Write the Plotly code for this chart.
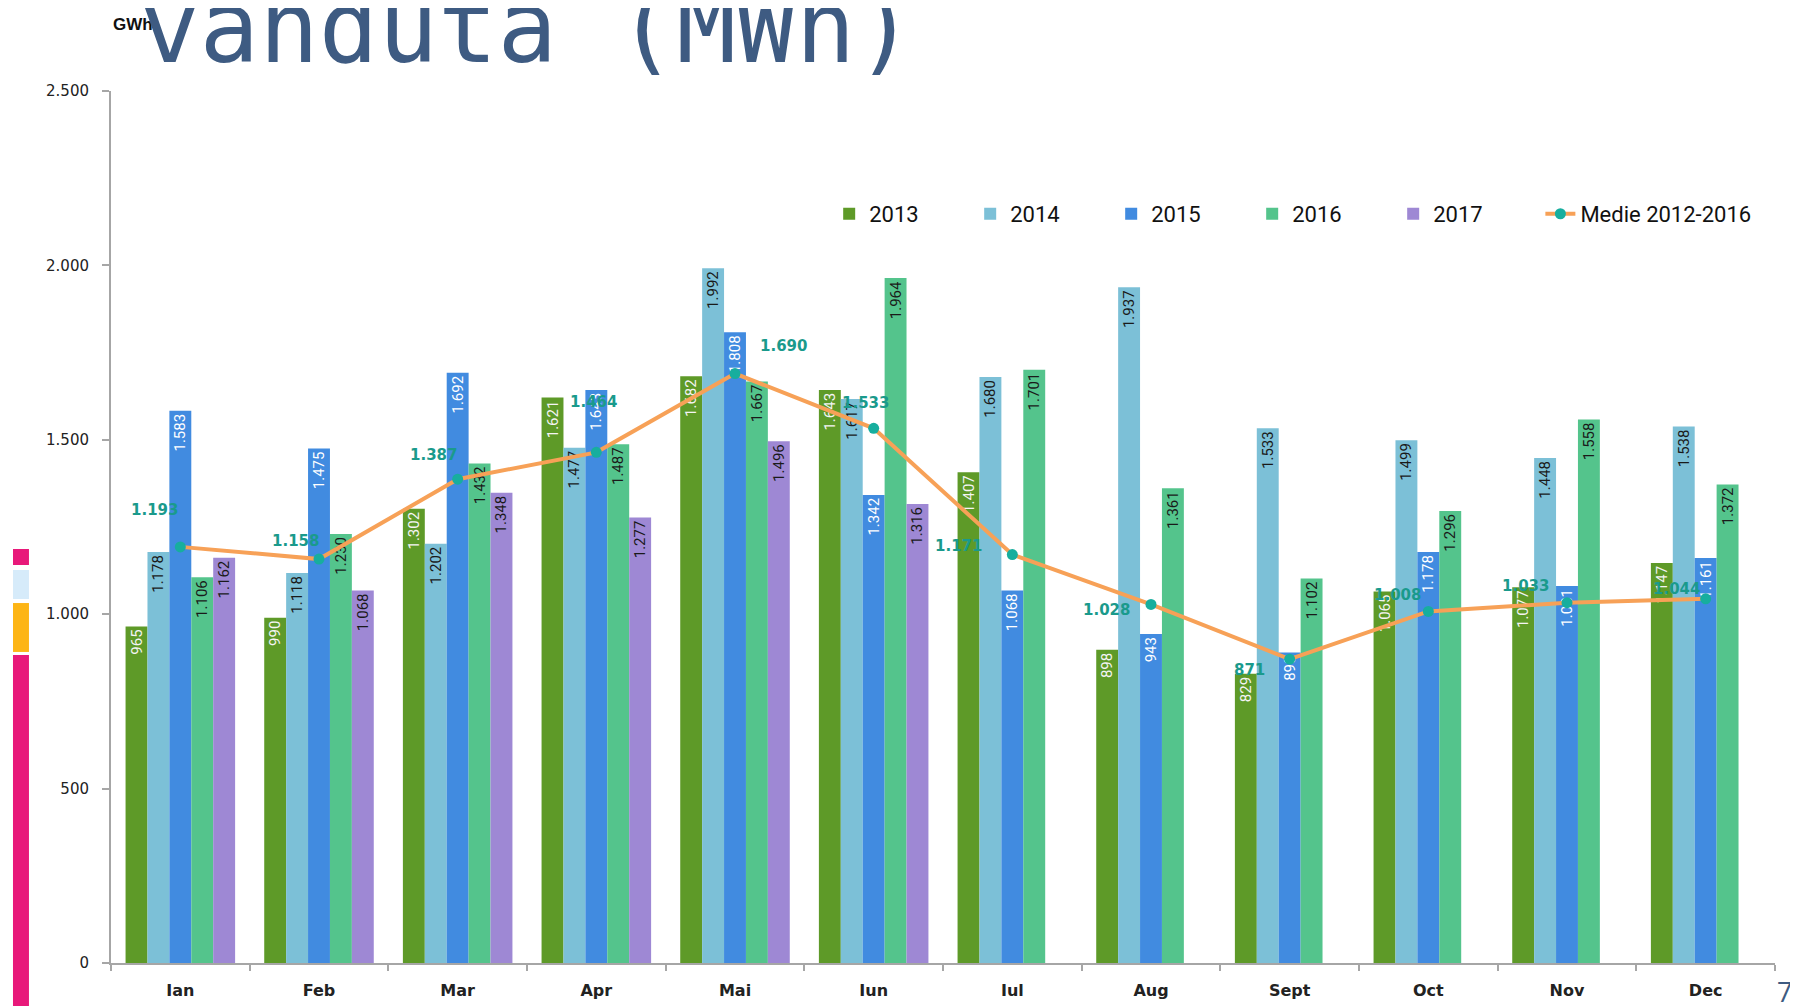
import plotly.graph_objects as go

# ---------------- data ----------------
months = ["Ian", "Feb", "Mar", "Apr", "Mai", "Iun", "Iul", "Aug", "Sept", "Oct", "Nov", "Dec"]
v2013 = [965, 990, 1302, 1621, 1682, 1643, 1407, 898, 829, 1065, 1077, 1147]
v2014 = [1178, 1118, 1202, 1477, 1992, 1617, 1680, 1937, 1533, 1499, 1448, 1538]
v2015 = [1583, 1475, 1692, 1643, 1808, 1342, 1068, 943, 890, 1178, 1081, 1161]
v2016 = [1106, 1230, 1432, 1487, 1667, 1964, 1701, 1361, 1102, 1296, 1558, 1372]
v2017 = [1162, 1068, 1348, 1277, 1496, 1316, None, None, None, None, None, None]
medie = [1193, 1158, 1387, 1464, 1690, 1533, 1171, 1028, 871, 1008, 1033, 1044]
y_ticks = [0, 500, 1000, 1500, 2000, 2500]

series_names = ["2013", "2014", "2015", "2016", "2017"]
line_name = "Medie 2012-2016"

# ---------------- styles ----------------
bar_colors = ["#5E9A28", "#7CC0D7", "#418BE0", "#54C48C", "#9E88D4"]
bar_text_colors = ["#F4F4F4", "#1A1A1A", "#FFFFFF", "#1A1A1A", "#1A1A1A"]
line_color = "#F7A157"
marker_color = "#17AE9E"
label_color = "#1A9A8C"
title_color = "#3E5B82"
axis_color = "#A6A6A6"
# pixel offsets for the average-line labels (xshift, yshift)
label_shifts = [(-26, 37), (-24, 18), (-24, 24), (-3, 50), (48, 28), (-8, 25),
                (-54, 9), (-45, -6), (-40, -11), (-31, 16), (-42, 17), (-29, 10)]

fig = go.Figure()
for name, vals, col, tcol in zip(series_names, [v2013, v2014, v2015, v2016, v2017],
                                  bar_colors, bar_text_colors):
    fig.add_trace(go.Bar(
        x=months, y=vals, name=name,
        marker=dict(color=col, line=dict(width=0)),
        texttemplate="%{y:,}", textposition="inside", insidetextanchor="end",
        textangle=-90,
        textfont=dict(family="Roboto, Liberation Sans", size=15, color=tcol),
        hoverinfo="skip", legend="legend",
    ))

fig.add_trace(go.Scatter(
    x=months, y=medie, name=line_name, mode="lines+markers",
    line=dict(color=line_color, width=4),
    marker=dict(color=marker_color, size=11),
    hoverinfo="skip", legend="legend2",
))

annotations = []
for m, v, (dx, dy) in zip(months, medie, label_shifts):
    annotations.append(dict(
        x=m, y=v, xref="x", yref="y", text=f"{v:,}".replace(",", "."),
        showarrow=False, xshift=dx, yshift=dy,
        font=dict(family="DejaVu Sans", size=15, color=label_color, weight="bold"),
    ))

# unit label and (clipped) slide title
annotations.append(dict(
    x=0.0, y=1.0757, xref="paper", yref="paper", xanchor="left", yanchor="middle",
    text="GWh", showarrow=False,
    font=dict(family="Liberation Sans", size=17, color="#111111", weight="bold"),
))
annotations.append(dict(
    x=0.016, y=1.073, xref="paper", yref="paper", xanchor="left", yanchor="middle",
    text="vanduta (MWh)", showarrow=False,
    font=dict(family="DejaVu Sans Mono", size=99, color=title_color),
))
annotations.append(dict(
    x=1.0, y=-0.033, xref="paper", yref="paper", xanchor="left", yanchor="middle",
    text="7", showarrow=False,
    font=dict(family="Open Sans", size=27, color=title_color),
))

shapes = []
deco = [(0.4748, 0.4564, "#E8197A"), (0.4507, 0.4174, "#D6EBFA"),
        (0.4128, 0.3567, "#FDB515"), (0.3532, -0.06, "#E8197A")]
for y0, y1, c in deco:
    shapes.append(dict(type="rect", xref="paper", yref="paper",
                       x0=-0.0589, x1=-0.0493, y0=y1, y1=y0,
                       fillcolor=c, line=dict(width=0), layer="above"))

legend_font = dict(family="Roboto", size=22, color="#111111")
fig.update_layout(
    width=1798, height=1006,
    margin=dict(l=103, r=31, t=83, b=51, autoexpand=False),
    barmode="group", bargap=0.21, bargroupgap=0,
    separators=",.",
    plot_bgcolor="white", paper_bgcolor="white",
    uniformtext=dict(mode="show", minsize=15),
    legend=dict(orientation="h", x=0.4316, y=0.859, xanchor="left", yanchor="middle",
                font=legend_font, entrywidth=96, entrywidthmode="pixels",
                bgcolor="rgba(0,0,0,0)", itemclick=False),
    legend2=dict(orientation="h", x=0.859, y=0.859, xanchor="left", yanchor="middle",
                 font=legend_font, bgcolor="rgba(0,0,0,0)", itemclick=False),
    annotations=annotations,
    shapes=shapes,
    xaxis=dict(type="category", range=[-0.5, 11.5], showline=True, linecolor=axis_color,
               linewidth=2, ticks="outside", tickson="boundaries", ticklen=6,
               tickcolor=axis_color, tickwidth=2, showgrid=False, zeroline=False,
               ticklabelstandoff=12,
               tickfont=dict(family="DejaVu Sans", size=16, color="#222222", weight="bold")),
    yaxis=dict(range=[0, 2500], tickvals=y_ticks, tickformat=",d",
               showline=True, linecolor=axis_color, linewidth=2,
               ticks="outside", ticklen=7, tickcolor=axis_color, tickwidth=2,
               showgrid=False, zeroline=False, ticklabelstandoff=10,
               tickfont=dict(family="DejaVu Sans", size=15, color="#222222")),
)

fig.write_html("out.html")
